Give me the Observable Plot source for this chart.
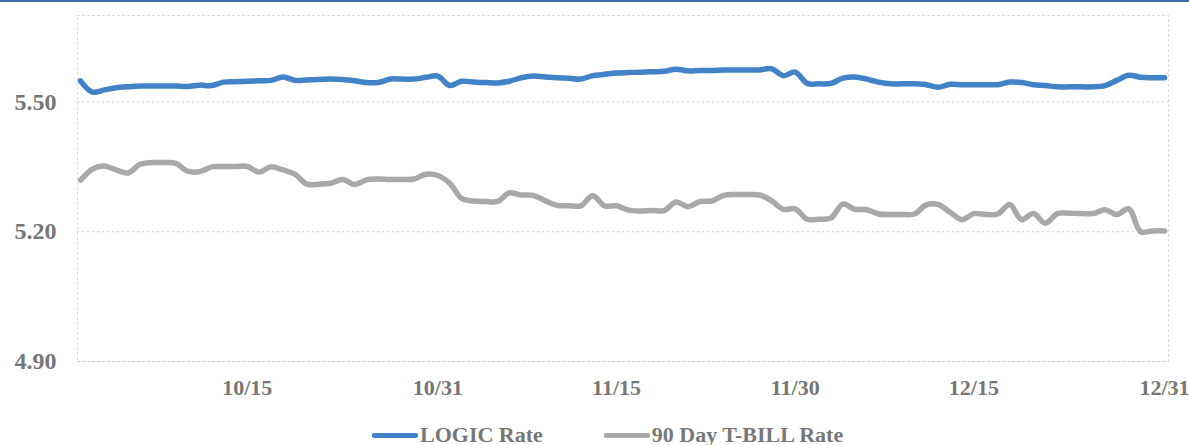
<!DOCTYPE html>
<html>
<head>
<meta charset="utf-8">
<script src="https://cdn.jsdelivr.net/npm/d3@7"></script>
<script src="https://cdn.jsdelivr.net/npm/@observablehq/plot@0.6"></script>
<style>
  html, body { margin: 0; padding: 0; background: #fff; }
  body { width: 1189px; height: 445px; overflow: hidden; position: relative; font-family: "Liberation Serif", serif; }
  #topbar { position: absolute; left: 0; top: 0; width: 1189px; height: 2px; background: #3f6f9e; }
  #chart { position: absolute; left: 0; top: 0; }
  #legend { position: absolute; left: 372px; top: 422px; display: flex; align-items: center; gap: 61px;
            font: bold 22px "Liberation Serif", serif; color: #777; white-space: nowrap; }
  .item { display: flex; align-items: center; }
  .sw { width: 46px; height: 5px; border-radius: 2px; margin-right: 2px; }
</style>
</head>
<body>
<div id="chart"></div>
<div id="topbar"></div>
<div id="legend"></div>
<script>
const startDate = "2023-10-01";
const seriesNames = ["LOGIC Rate", "90 Day T-BILL Rate"];
const seriesColors = ["#4283c8", "#a8a8a8"];
const logicRate = [
  5.549, 5.523, 5.528, 5.533, 5.535, 5.537, 5.537, 5.537, 5.537, 5.536,
  5.539, 5.538, 5.546, 5.547, 5.548, 5.549, 5.550, 5.558, 5.550, 5.551,
  5.552, 5.553, 5.552, 5.549, 5.545, 5.545, 5.553, 5.553, 5.553, 5.557,
  5.560, 5.538, 5.548, 5.546, 5.545, 5.544, 5.548, 5.556, 5.560, 5.558,
  5.556, 5.555, 5.553, 5.561, 5.564, 5.567, 5.568, 5.569, 5.570, 5.571,
  5.576, 5.572, 5.573, 5.573, 5.574, 5.574, 5.574, 5.574, 5.577, 5.561,
  5.569, 5.543, 5.542, 5.543, 5.555, 5.558, 5.553, 5.546, 5.542, 5.542,
  5.542, 5.540, 5.534, 5.541, 5.540, 5.540, 5.540, 5.540, 5.546, 5.545,
  5.540, 5.538, 5.535, 5.535, 5.535, 5.535, 5.538, 5.550, 5.562, 5.557,
  5.556, 5.556
];
const tbillRate = [
  5.319, 5.345, 5.352, 5.343, 5.336, 5.356, 5.360, 5.360, 5.358, 5.340,
  5.339, 5.350, 5.351, 5.351, 5.351, 5.338, 5.350, 5.343, 5.333, 5.310,
  5.310, 5.312, 5.321, 5.309, 5.320, 5.322, 5.321, 5.321, 5.322, 5.333,
  5.330, 5.312, 5.277, 5.271, 5.270, 5.270, 5.290, 5.285, 5.284, 5.272,
  5.261, 5.260, 5.260, 5.283, 5.260, 5.260, 5.250, 5.248, 5.249, 5.249,
  5.269, 5.258, 5.270, 5.271, 5.284, 5.286, 5.286, 5.285, 5.272, 5.252,
  5.253, 5.229, 5.229, 5.232, 5.264, 5.252, 5.251, 5.241, 5.240, 5.240,
  5.241, 5.262, 5.263, 5.245, 5.228, 5.242, 5.240, 5.241, 5.263, 5.228,
  5.242, 5.220, 5.242, 5.243, 5.242, 5.242, 5.251, 5.240, 5.253, 5.200,
  5.202, 5.202
];
const tickDates = ["2023-10-15", "2023-10-31", "2023-11-15", "2023-11-30", "2023-12-15", "2023-12-31"];
const tickLabels = ["10/15", "10/31", "11/15", "11/30", "12/15", "12/31"];
const yTicks = [4.90, 5.20, 5.50];
const yDomain = [4.90, 5.70];

const start = new Date(startDate);
const rows = [];
[logicRate, tbillRate].forEach((arr, s) => {
  arr.forEach((v, i) => rows.push({date: d3.utcDay.offset(start, i), value: v, series: seriesNames[s]}));
});
const tickDateObjs = tickDates.map(d => new Date(d));
const labelOf = new Map(tickDateObjs.map((d, i) => [+d, tickLabels[i]]));

const xDomain = [d3.utcHour.offset(start, -6), d3.utcHour.offset(new Date(tickDates[tickDates.length - 1]), 8)];

const chart = Plot.plot({
  width: 1189,
  height: 400,
  marginLeft: 77,
  marginRight: 21,
  marginTop: 15,
  marginBottom: 39,
  style: {background: "transparent", fontFamily: '"Liberation Serif", serif', fontSize: "22px", fontWeight: "bold", color: "#767676"},
  x: {type: "utc", domain: xDomain},
  y: {domain: yDomain},
  color: {domain: seriesNames, range: seriesColors},
  marks: [
    Plot.frame({stroke: "#cfcfcf", strokeDasharray: "2,3", strokeWidth: 1}),
    Plot.gridY(yTicks, {stroke: "#cfcfcf", strokeOpacity: 1, strokeDasharray: "2,3"}),
    Plot.axisY(yTicks, {tickSize: 0, tickPadding: 21, tickFormat: d3.format(".2f"), label: null, fill: "#767676", fontSize: 24}),
    Plot.axisX(tickDateObjs, {tickSize: 0, tickPadding: 18, tickFormat: d => labelOf.get(+d), label: null, fill: "#767676"}),
    Plot.line(rows, {x: "date", y: "value", z: "series", stroke: "series", strokeWidth: 5.5, curve: "catmull-rom", strokeLinecap: "round", strokeLinejoin: "round"})
  ]
});
document.getElementById("chart").appendChild(chart);

const legend = document.getElementById("legend");
seriesNames.forEach((name, i) => {
  const item = document.createElement("div");
  item.className = "item";
  const sw = document.createElement("span");
  sw.className = "sw";
  sw.style.background = seriesColors[i];
  const t = document.createElement("span");
  t.textContent = name;
  item.appendChild(sw);
  item.appendChild(t);
  legend.appendChild(item);
});
</script>
</body>
</html>
